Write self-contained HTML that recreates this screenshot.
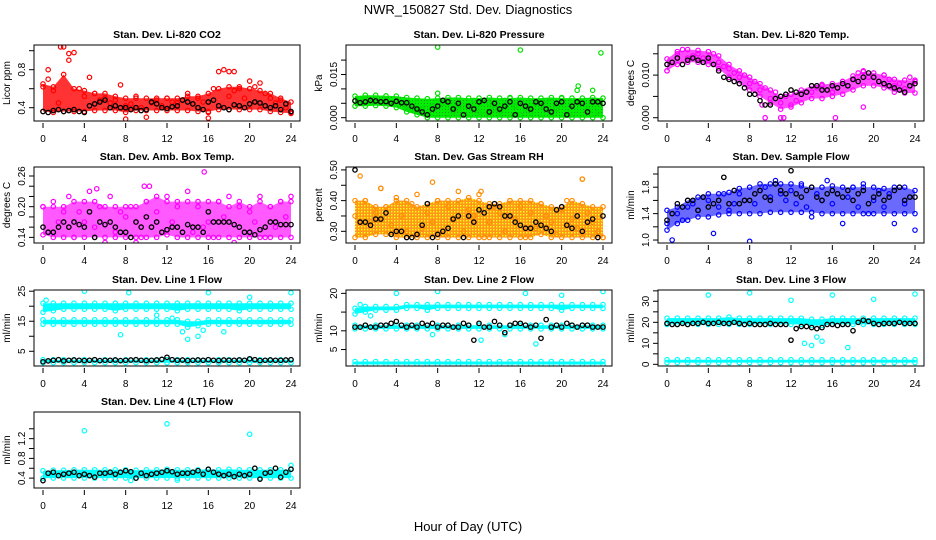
<!DOCTYPE html>
<html><head><meta charset="utf-8"><style>
html,body{margin:0;padding:0;background:#fff;}
svg{display:block;font-family:"Liberation Sans",Arial,sans-serif;}
</style></head><body>
<svg id="chart" width="936" height="540" viewBox="0 0 936 540" xmlns="http://www.w3.org/2000/svg">
<defs>
<pattern id="rhpat" width="3" height="3" patternUnits="userSpaceOnUse">
<rect width="3" height="3" fill="#ff8c00"/><rect x="1" y="1" width="1.4" height="1.4" fill="#ffff00"/>
</pattern>
<pattern id="grpat" width="3" height="3" patternUnits="userSpaceOnUse">
<rect width="3" height="3" fill="#00ee00"/><rect x="1" y="1" width="1" height="1" fill="#229922"/>
</pattern>
</defs>
<text x="468" y="14" text-anchor="middle" font-size="13">NWR_150827  Std. Dev. Diagnostics</text>
<text x="468" y="531" text-anchor="middle" font-size="13">Hour of Day (UTC)</text>
</svg>
<script>
// ---- Panel 1: CO2 ----
const co2Lo=[.36,.35,.36,.36,.36,.37,.37,.37,.35,.37,.37,.37,.37,.37,.37,.36,.36,.38,.38,.38,.38,.38,.36,.35,.34];
const co2Hi=[.65,.62,.75,.6,.58,.55,.55,.52,.5,.5,.5,.5,.5,.5,.52,.52,.55,.6,.62,.62,.6,.58,.55,.5,.46];
const co2Col=[.62,.7,.58,.45,1.04,.9,.98,.6,.52,.72,.55,.48,.5,.45,.48,.64,.42,.44,.52,.4,.3,.45,.48,.42,.5,.46,.45,.48,.55,.44,.5,.46,.35,.6,.78,.8,.52,.58,.6,.5,.68,.62,.66,.55,.5,.45,.48,.4,.35];
const co2Blk=[.36,.35,.37,.38,.36,.37,.38,.36,.35,.42,.44,.46,.48,.40,.42,.40,.40,.38,.40,.37,.38,.46,.44,.40,.39,.41,.42,.48,.46,.44,.40,.38,.46,.48,.42,.40,.38,.43,.42,.40,.44,.46,.45,.42,.40,.42,.38,.44,.36];
const co2OutT=[1.7,2.5,0.5,18,18.5,8,16];
const co2OutV=[1.04,.97,.80,.78,.78,.28,.29];
// ---- Panel 2: Pressure ----
const prLo=[.004,.004,.0042,.004,.0035,.002,.001,0,0,0,0,0,0,0,0,0,0,0,0,0,0,0,0,0,0];
const prHi=[.0075,.0078,.0078,.0076,.0075,.007,.0068,.0066,.0068,.007,.007,.0068,.0068,.007,.0068,.0068,.007,.0068,.0068,.007,.0068,.0068,.0068,.007,.0068];
const prCol=[.006,.0065,.006,.0055,.0062,.0058,.006,.0052,.0058,.005,.004,.003,.002,.003,.001,.004,.0085,.005,.006,.002,.003,.001,.004,.006,.002,.001,.005,.003,.002,.006,.007,.004,.001,.003,.002,.005,.004,.006,.002,.003,.007,.002,.004,.0095,.005,.003,.006,.002,.005];
const prBlk=[.0058,.0052,.0055,.006,.0058,.0055,.0056,.005,.0057,.0052,.0052,.004,.003,.002,.001,.003,.004,.006,.0055,.003,.005,.001,.004,.003,.0055,.006,.002,.005,.003,.004,.0055,.001,.005,.004,.003,.0055,.005,.003,.002,.005,.0055,.001,.004,.0055,.005,.002,.0055,.0055,.005];
const prOutT=[8,16,23.8,21.6,23];
const prOutV=[.0245,.0235,.0225,.011,.0095];
// ---- Panel 3: Li-820 Temp ----
const ltLo=[.011,.0125,.013,.013,.0125,.0115,.0095,.008,.0065,.005,.0035,.002,.0025,.0035,.0045,.0045,.005,.0055,.0065,.0075,.0075,.007,.006,.0058,.0058];
const ltHi=[.0138,.0155,.016,.0158,.0155,.0145,.0125,.011,.0095,.008,.0065,.005,.0055,.0065,.0075,.0078,.008,.0085,.0098,.0108,.0105,.01,.009,.0088,.0088];
const ltCol=[.011,.013,.015,.016,.014,.0145,.015,.014,.0135,.015,.013,.012,.0115,.0105,.0095,.01,.008,.0085,.0065,.007,.0045,.006,.0035,.005,.003,.004,.0055,.006,.006,.007,.0075,.0065,.006,.007,.0085,.0075,.009,.0105,.011,.0095,.0095,.0085,.01,.009,.0075,.008,.0068,.0095,.0085];
const ltBlk=[.0125,.013,.014,.0125,.0135,.014,.0135,.013,.014,.0125,.011,.0095,.009,.0085,.008,.007,.0055,.0055,.004,.003,.003,.0045,.005,.0055,.0065,.006,.0055,.006,.0075,.0075,.0065,.0065,.0075,.007,.008,.0075,.009,.0085,.0095,.0105,.0095,.0085,.008,.0075,.007,.0065,.006,.0075,.008];
const ltOutT=[9.5,11,11.3,16.3,9.2,19];
const ltOutV=[0,0,0,0,.003,.0025];
// ---- Panel 4: Amb Box Temp ----
const abLo=[.145,.14,.14,.14,.14,.14,.14,.14,.14,.14,.14,.14,.145,.14,.14,.14,.14,.14,.14,.14,.14,.14,.14,.14,.14];
const abHi=[.2,.2,.2,.21,.21,.21,.2,.2,.2,.2,.21,.22,.21,.21,.21,.21,.21,.21,.2,.21,.2,.21,.2,.21,.21];
const abCol=[.2,.15,.21,.17,.19,.22,.14,.19,.17,.23,.16,.2,.13,.22,.15,.19,.18,.2,.13,.14,.21,.16,.19,.12,.22,.17,.2,.15,.23,.15,.2,.16,.17,.14,.21,.18,.22,.13,.2,.15,.19,.17,.22,.14,.2,.16,.21,.18,.22];
const abBlk=[.16,.15,.15,.16,.17,.16,.17,.165,.16,.19,.14,.17,.165,.17,.16,.15,.15,.14,.17,.16,.18,.16,.17,.15,.155,.16,.16,.15,.165,.16,.16,.15,.19,.17,.17,.17,.17,.165,.16,.15,.15,.145,.155,.16,.17,.17,.165,.165,.165];
const abOutT=[15.6,9.8,10.3,5.2];
const abOutV=[.268,.24,.24,.235];
// ---- Panel 5: Gas Stream RH ----
const rhLo=[.28,.28,.29,.29,.28,.28,.28,.28,.28,.28,.28,.28,.28,.28,.28,.28,.28,.28,.29,.28,.28,.28,.28,.28,.28];
const rhHi=[.4,.4,.38,.38,.4,.4,.38,.39,.4,.4,.4,.41,.4,.39,.39,.4,.4,.4,.39,.38,.38,.4,.39,.38,.38];
const rhCol=[.35,.48,.4,.33,.36,.44,.38,.32,.41,.35,.3,.39,.42,.31,.36,.33,.4,.29,.38,.34,.43,.3,.37,.35,.42,.28,.33,.38,.36,.3,.4,.34,.38,.28,.36,.31,.39,.35,.33,.29,.37,.4,.34,.31,.47,.36,.33,.3,.28];
const rhBlk=[.5,.33,.33,.32,.34,.34,.36,.29,.30,.30,.28,.28,.29,.32,.39,.28,.29,.30,.31,.34,.35,.28,.35,.33,.37,.36,.38,.39,.38,.35,.35,.33,.32,.31,.31,.33,.32,.31,.30,.37,.38,.32,.31,.35,.30,.33,.34,.28,.35];
const rhOutT=[2.5,7.5,12.2,22];
const rhOutV=[.44,.46,.43,.47];
// ---- Panel 6: Sample Flow ----
const sfLo=[1.15,1.25,1.3,1.35,1.35,1.38,1.4,1.4,1.4,1.4,1.42,1.42,1.42,1.42,1.42,1.4,1.4,1.4,1.4,1.4,1.4,1.4,1.4,1.4,1.4];
const sfHi=[1.45,1.5,1.6,1.65,1.7,1.7,1.72,1.78,1.8,1.85,1.85,1.85,1.85,1.82,1.8,1.8,1.82,1.8,1.8,1.8,1.8,1.78,1.8,1.8,1.75];
const sfCol=[1.25,1.0,1.4,1.3,1.5,1.55,1.45,1.65,1.6,1.1,1.5,1.7,1.45,1.55,1.7,1.6,.98,1.55,1.75,1.8,1.65,1.9,1.7,1.6,1.75,1.55,1.85,1.5,1.35,1.7,1.6,1.9,1.55,1.7,1.25,1.65,1.8,1.5,1.85,1.4,1.6,1.75,1.5,1.7,1.25,1.8,1.55,1.65,1.15];
const sfBlk=[1.3,1.4,1.55,1.5,1.6,1.6,1.45,1.65,1.5,1.55,1.6,1.95,1.55,1.75,1.55,1.6,1.6,1.7,1.75,1.65,1.6,1.85,1.75,1.7,2.05,1.7,1.65,1.75,1.8,1.65,1.6,1.7,1.75,1.7,1.65,1.75,1.6,1.7,1.75,1.55,1.65,1.7,1.6,1.65,1.75,1.8,1.6,1.65,1.65];
// ---- Panel 7: Line 1 Flow ----
const l1UpLo=[18,18.5,19,19,19,19,19,18.5,19,19,19,19,19,18.5,19,19,19,19,19,18.5,19,19,19,19,19];
const l1UpHi=[21,21,21,21,21,21,21,21,21,21,21,21,21,21,21,21,21,21,21,21,21,21,21,21,21];
const l1MidLo=[14,14,14,14,14,14,14,14,14,14,14,14,14,14,13,13.5,14,14,14,14,14,14,14,14,14];
const l1MidHi=[15.5,15.5,15.5,15.5,15.5,15.5,15.5,15.5,15.5,15.5,15.5,15.5,15.5,15.5,15,15,15.5,15.5,15.5,15.5,15.5,15.5,15.5,15.5,15.5];
const l1LowLo=[1.2,1.2,1.2,1.2,1.2,1.2,1.2,1.2,1.2,1.2,1.2,1.2,1.2,1.2,1.2,1.2,1.2,1.2,1.2,1.2,1.2,1.2,1.2,1.2,1.2];
const l1LowHi=[2.2,2.2,2.2,2.2,2.2,2.2,2.2,2.2,2.2,2.2,2.2,2.2,2.2,2.2,2.2,2.2,2.2,2.2,2.2,2.2,2.2,2.2,2.2,2.2,2.2];
const l1OutT=[0.3,4,8.3,16,20,24,14,7.5,17.5,15,15.5,11,12.5,13.5];
const l1OutV=[22,25,24.5,24.5,23,24.5,9,10.5,11.5,10,12,17,16,11.5];
const l1Blk=[1.5,1.8,2,2.2,1.8,2,2.1,2,1.9,2,2.2,1.9,2,2,2.1,1.9,2,2.1,2.2,2,1.9,2,2.1,2.3,3,2.2,2,2.1,1.9,2,2.1,2,2.2,2,1.9,2.1,2,2,2.1,2,2.5,2.2,1.9,2,2.1,2,2,2.1,2.2];
// ---- Panel 8: Line 2 Flow ----
const l2UpLo=[14.5,15,15.5,15.5,15.5,16,16,15.5,16,16,16,16,16,16,16,16,16,16,16,16,15.5,16,16,16,16];
const l2UpHi=[16,16.5,16.5,16.5,16.5,17,17,17,17,17,17,17,17,17,17,17,17,17,17,17,17,17,17,17,17];
const l2MidLo=[10.5,10.5,10.5,10.5,10.5,10.5,10.5,10.5,10.5,10.5,10.5,10.5,10.5,10.5,10.5,10.5,10.5,10.5,10.5,10.5,10.5,10.5,10.5,10.5,10.5];
const l2MidHi=[11.5,11.5,11.5,11.5,11.5,11.5,11.5,11.5,11.5,11.5,11.5,11.5,11.5,11.5,11.5,11.5,11.5,11.5,11.5,11.5,11.5,11.5,11.5,11.5,11.5];
const l2LowLo=[1,1,1,1,1,1,1,1,1,1,1,1,1,1,1,1,1,1,1,1,1,1,1,1,1];
const l2LowHi=[1.8,1.8,1.8,1.8,1.8,1.8,1.8,1.8,1.8,1.8,1.8,1.8,1.8,1.8,1.8,1.8,1.8,1.8,1.8,1.8,1.8,1.8,1.8,1.8,1.8];
const l2OutT=[4,8,16.5,20,24,7.5,12.2,17.5,14.5,0.5,1.5];
const l2OutV=[20,20.5,20,19.5,20.5,9,7.5,6.5,9,17,14];
const l2Blk=[11,11,11.5,11,11,11.5,11.5,12,12.5,11.5,11,11.5,11,12,11.5,12,11,11.5,11.5,11,11,12,11.5,7.5,12,11,11,12.5,11.5,9.5,11.5,12,12,11.5,11,11.5,8,13,11,11.5,11,12,11.5,11,11.5,11.5,11,11,11];
// ---- Panel 9: Line 3 Flow ----
const l3UpLo=[19,19,19,19,19,19,19,19,19,19,19,19,19,19,18.5,18.5,19,19,19,19,19,19,19,19,19];
const l3UpHi=[22,22,22,22,22,22,22.5,22,22,22,22,22,22,22,21.5,21.5,22,22,22,22,22,22,22,22,22];
const l3LowLo=[.8,.8,.8,.8,.8,.8,.8,.8,.8,.8,.8,.8,.8,.8,.8,.8,.8,.8,.8,.8,.8,.8,.8,.8,.8];
const l3LowHi=[2.2,2.2,2.2,2.2,2.2,2.2,2.2,2.2,2.2,2.2,2.2,2.2,2.2,2.2,2.2,2.2,2.2,2.2,2.2,2.2,2.2,2.2,2.2,2.2,2.2];
const l3OutT=[4,8,16,20,24,12,13.3,14,17.5,15,14.5];
const l3OutV=[33,34,33,31,33.5,30.5,10,9,8,11,13];
const l3Blk=[19.5,19,19,19.5,19,19.5,19.5,20,19.5,19.5,20,19.5,19.5,20,19.5,19,19.5,19,19,19,19.5,19,19,19,11.5,17,18,18,17.5,17,17.5,19,19,18.5,19,19,16,20,21,20.5,19.5,19,19.5,19.5,19.5,20,19.5,19.5,19.5];
// ---- Panel 10: Line 4 (LT) Flow ----
const l4Lo=[.4,.4,.4,.4,.4,.4,.4,.4,.4,.4,.4,.4,.4,.4,.4,.4,.4,.4,.4,.4,.4,.4,.4,.4,.4];
const l4Hi=[.55,.56,.56,.57,.57,.57,.57,.57,.57,.56,.57,.57,.58,.57,.57,.57,.58,.57,.58,.57,.57,.57,.57,.57,.58];
const l4OutT=[4,12,20,24,8.5,13,9];
const l4OutV=[1.36,1.5,1.29,.66,.35,.36,.4];
const l4Blk=[.35,.5,.52,.45,.48,.5,.52,.45,.48,.45,.42,.5,.5,.52,.48,.52,.55,.53,.4,.5,.45,.48,.5,.52,.55,.53,.48,.5,.5,.52,.55,.48,.58,.52,.48,.45,.48,.43,.48,.45,.48,.6,.38,.5,.52,.6,.42,.52,.58];
const xTicks=[0,4,8,12,16,20,24];

const NS='http://www.w3.org/2000/svg';
const svg=document.getElementById('chart');
function mk(tag,attrs,parent){const e=document.createElementNS(NS,tag);for(const k in attrs)e.setAttribute(k,attrs[k]);(parent||svg).appendChild(e);return e;}

const panels=[
 {key:'co2',title:'Stan. Dev. Li-820 CO2',ylab:'Licor ppm',col:0,row:0,vb:.26,vt:1.06,yt:[.4,.6,.8,1.0],yl:[[.4,'0.4'],[.8,'0.8']],color:'#ff0000',bands:[[co2Lo,co2Hi]],fill:'#ff0000',op:.8,colV:co2Col,outT:co2OutT,outV:co2OutV,blk:co2Blk},
 {key:'pressure',title:'Stan. Dev. Li-820 Pressure',ylab:'kPa',col:1,row:0,vb:-.00115,vt:.02524,yt:[0,.005,.01,.015,.02],yl:[[0,'0.000'],[.015,'0.015']],color:'#00dd00',bands:[[prLo,prHi]],fill:'url(#grpat)',op:1,colV:prCol,outT:prOutT,outV:prOutV,blk:prBlk},
 {key:'li-temp',title:'Stan. Dev. Li-820 Temp.',ylab:'degrees C',col:2,row:0,vb:-.00077,vt:.01706,yt:[0,.005,.01,.015],yl:[[0,'0.000'],[.01,'0.010']],color:'#ff00ff',bands:[[ltLo,ltHi]],fill:'#ff00ff',op:.7,colV:ltCol,outT:ltOutT,outV:ltOutV,blk:ltBlk},
 {key:'amb-box-temp',title:'Stan. Dev. Amb. Box Temp.',ylab:'degrees C',col:0,row:1,vb:.129,vt:.2776,yt:[.14,.16,.18,.2,.22,.24,.26],yl:[[.14,'0.14'],[.2,'0.20'],[.26,'0.26']],color:'#ff00ff',bands:[[abLo,abHi]],fill:'#ff00ff',op:.65,colV:abCol,outT:abOutT,outV:abOutV,blk:abBlk},
 {key:'gas-rh',title:'Stan. Dev. Gas Stream RH',ylab:'percent',col:1,row:1,vb:.262,vt:.5095,yt:[.3,.35,.4,.45,.5],yl:[[.3,'0.30'],[.4,'0.40'],[.5,'0.50']],color:'#ff8c00',bands:[[rhLo,rhHi]],fill:'url(#rhpat)',op:.9,colV:rhCol,outT:rhOutT,outV:rhOutV,blk:rhBlk},
 {key:'sample-flow',title:'Stan. Dev. Sample Flow',ylab:'ml/min',col:2,row:1,vb:.955,vt:2.106,yt:[1,1.2,1.4,1.6,1.8,2.0],yl:[[1,'1.0'],[1.4,'1.4'],[1.8,'1.8']],color:'#0000ff',bands:[[sfLo,sfHi]],fill:'#1a1aff',op:.65,colV:sfCol,outT:[],outV:[],blk:sfBlk},
 {key:'line1',title:'Stan. Dev. Line 1 Flow',ylab:'ml/min',col:0,row:2,vb:.1,vt:25.4,yt:[5,10,15,20,25],yl:[[5,'5'],[15,'15'],[25,'25']],color:'#00ffff',bands:[[l1UpLo,l1UpHi],[l1MidLo,l1MidHi],[l1LowLo,l1LowHi]],fill:'#00ffff',op:1,colV:null,outT:l1OutT,outV:l1OutV,blk:l1Blk},
 {key:'line2',title:'Stan. Dev. Line 2 Flow',ylab:'ml/min',col:1,row:2,vb:.6,vt:20.9,yt:[5,10,15,20],yl:[[5,'5'],[10,'10'],[20,'20']],color:'#00ffff',bands:[[l2UpLo,l2UpHi],[l2MidLo,l2MidHi],[l2LowLo,l2LowHi]],fill:'#00ffff',op:1,colV:null,outT:l2OutT,outV:l2OutV,blk:l2Blk},
 {key:'line3',title:'Stan. Dev. Line 3 Flow',ylab:'ml/min',col:2,row:2,vb:-.8,vt:35.4,yt:[0,5,10,15,20,25,30,35],yl:[[0,'0'],[10,'10'],[20,'20'],[30,'30']],color:'#00ffff',bands:[[l3UpLo,l3UpHi],[l3LowLo,l3LowHi]],fill:'#00ffff',op:1,colV:null,outT:l3OutT,outV:l3OutV,blk:l3Blk},
 {key:'line4',title:'Stan. Dev. Line 4 (LT) Flow',ylab:'ml/min',col:0,row:3,vb:.2,vt:1.74,yt:[.4,.6,.8,1.0,1.2,1.4],yl:[[.4,'0.4'],[.8,'0.8'],[1.2,'1.2']],color:'#00ffff',bands:[[l4Lo,l4Hi]],fill:'#00ffff',op:1,colV:null,outT:l4OutT,outV:l4OutV,blk:l4Blk}
];
const colLeft=[34,346,658], rowTop=[45,167,290,412], W=266, H=76;

panels.forEach(p=>{
 const L=colLeft[p.col], T=rowTop[p.row], B=T+H;
 const g=mk('g',{});
 
 
 const xs=t=>L+9+t*(248/24);
 const ys=v=>B-(v-p.vb)/(p.vt-p.vb)*H;
 const clip=mk('clipPath',{id:'c-'+p.key},g);
 mk('rect',{x:L,y:T,width:W,height:H},clip);
 const plot=mk('g',{'clip-path':'url(#c-'+p.key+')'},g);
 
 
 p.bands.forEach((bd,bi)=>{
  const lo=bd[0],hi=bd[1];let pts=[];
  hi.forEach((v,i)=>pts.push(xs(i*24/(hi.length-1)).toFixed(1)+','+ys(v).toFixed(1)));
  for(let i=lo.length-1;i>=0;i--)pts.push(xs(i*24/(lo.length-1)).toFixed(1)+','+ys(lo[i]).toFixed(1));
  const poly=mk('polygon',{points:pts.join(' '),fill:p.fill,'fill-opacity':p.op,stroke:'none'},plot);
  
  
  [lo,hi].forEach(arr=>arr.forEach((v,i)=>{
   const c=mk('circle',{cx:xs(i*24/(arr.length-1)),cy:ys(v),r:2.2,fill:'none',stroke:p.color,'stroke-width':1.2},plot);
   
   
  }));
 });
 if(p.colV){p.colV.forEach((v,i)=>{
  const c=mk('circle',{cx:xs(i*24/(p.colV.length-1)),cy:ys(v),r:2.2,fill:'none',stroke:p.color,'stroke-width':1.2},plot);
  
  
 });}
 p.outT.forEach((t,i)=>{
  const c=mk('circle',{cx:xs(t),cy:ys(p.outV[i]),r:2.2,fill:'none',stroke:p.color,'stroke-width':1.2},plot);
  
  
 });
 p.blk.forEach((v,i)=>{
  const c=mk('circle',{cx:xs(i*24/(p.blk.length-1)),cy:ys(v),r:2.2,fill:'none',stroke:'#000','stroke-width':1.3},plot);
  
  
 });
 const box=mk('rect',{x:L,y:T,width:W,height:H,fill:'none',stroke:'#000','stroke-width':1},g);
 
 
 const tt=mk('text',{x:L+W/2,y:T-7,'text-anchor':'middle','font-size':10.5,'font-weight':'bold'},g);
 tt.textContent=p.title;
 
 
 xTicks.forEach(t=>{
  const ln=mk('line',{x1:xs(t),x2:xs(t),y1:B+2,y2:B+7,stroke:'#000','stroke-width':1},g);
  
  
  const tx=mk('text',{x:xs(t),y:B+21,'text-anchor':'middle','font-size':10},g);
  tx.textContent=String(t);
  
  
 });
 p.yt.forEach(v=>{
  const y=ys(v); if(y<T-1||y>B+1)return;
  const ln=mk('line',{x1:L-5,x2:L,y1:y,y2:y,stroke:'#000','stroke-width':1},g);
  
  
 });
 p.yl.forEach(([v,s])=>{
  const y=ys(v);
  const tx=mk('text',{x:L-9,y:y,'text-anchor':'middle','font-size':10,transform:'rotate(-90 '+(L-9)+' '+y+')'},g);
  tx.textContent=s;
  
  
 });
 const yl=mk('text',{x:L-24,y:T+H/2,'text-anchor':'middle','font-size':10,transform:'rotate(-90 '+(L-24)+' '+(T+H/2)+')'},g);
 yl.textContent=p.ylab;
 
 
});
</script>
</body></html>
